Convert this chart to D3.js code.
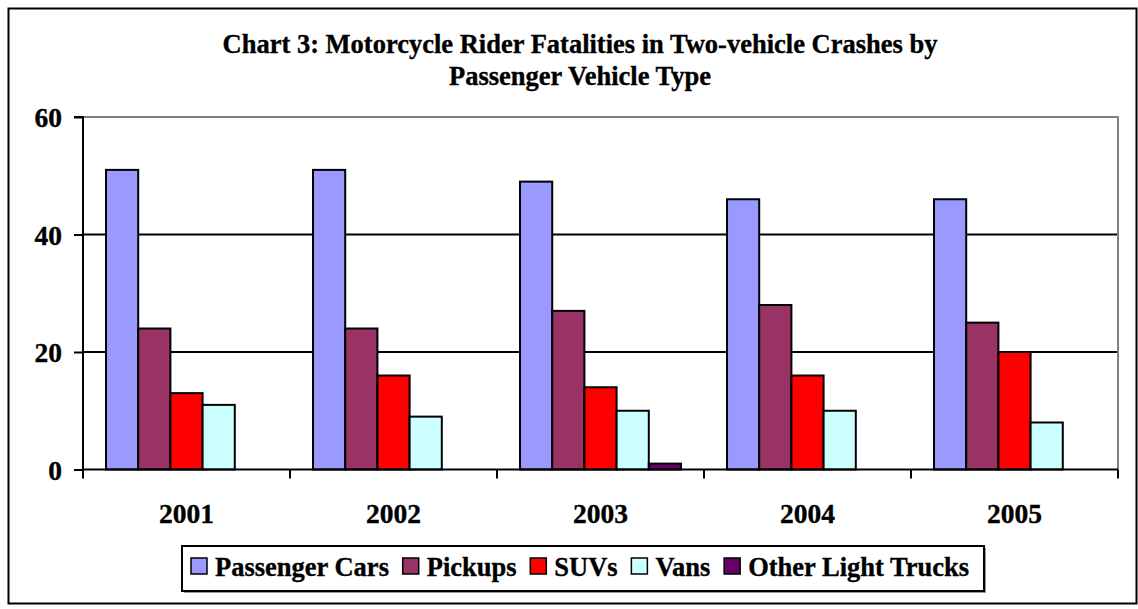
<!DOCTYPE html>
<html>
<head>
<meta charset="utf-8">
<script src="https://cdn.jsdelivr.net/npm/d3@7"></script>
<style>
  html, body { margin: 0; padding: 0; background: #fff; }
  svg { display: block; }
  text { font-family: "Liberation Serif", "Times New Roman", serif; font-weight: bold; fill: #000; stroke: #000; stroke-width: 0.35px; }
</style>
</head>
<body>
<svg id="chart" width="1138" height="609"></svg>
<script>
const years = ["2001", "2002", "2003", "2004", "2005"];
const seriesNames = ["Passenger Cars", "Pickups", "SUVs", "Vans", "Other Light Trucks"];
const seriesColors = ["#9999FF", "#993366", "#FF0000", "#CCFFFF", "#660066"];
const passengerCars = [51, 51, 49, 46, 46];
const pickups = [24, 24, 27, 28, 25];
const suvs = [13, 16, 14, 16, 20];
const vans = [11, 9, 10, 10, 8];
const otherLightTrucks = [0, 0, 1, 0, 0];
const yTicks = [0, 20, 40, 60];
const titleLines = ["Chart 3: Motorcycle Rider Fatalities in Two-vehicle Crashes by", "Passenger Vehicle Type"];

const seriesValues = [passengerCars, pickups, suvs, vans, otherLightTrucks];
const data = [];
years.forEach((yr, i) => {
  seriesNames.forEach((s, j) => data.push({year: yr, series: s, value: seriesValues[j][i], color: seriesColors[j]}));
});

const svg = d3.select("#chart");
const plot = {left: 83, right: 1118, top: 117, bottom: 469.5};

// outer border
svg.append("rect").attr("x", 8.5).attr("y", 8.5).attr("width", 1128).attr("height", 595)
  .attr("fill", "#fff").attr("stroke", "#000").attr("stroke-width", 2);

// title
svg.append("g").selectAll("text").data(titleLines).join("text")
  .attr("x", 580).attr("y", (d, i) => 52.5 + i * 32)
  .attr("text-anchor", "middle").attr("font-size", 26.5).text(d => d);

const x0 = d3.scaleBand().domain(years).range([plot.left, plot.right]).paddingInner(0).paddingOuter(0);
const x1 = d3.scaleBand().domain(seriesNames).range([0, x0.bandwidth()]).paddingInner(0).paddingOuter(0.715);
const y = d3.scaleLinear().domain([0, 60]).range([plot.bottom, plot.top]);

// gridlines
svg.append("g").selectAll("line").data(yTicks.filter(t => t > 0 && t < 60)).join("line")
  .attr("x1", plot.left).attr("x2", plot.right)
  .attr("y1", d => y(d)).attr("y2", d => y(d))
  .attr("stroke", "#000").attr("stroke-width", 2);

// plot area top/right border (gray)
svg.append("path")
  .attr("d", `M${plot.left},${y(60)}H${plot.right}V${plot.bottom}`)
  .attr("fill", "none").attr("stroke", "#808080").attr("stroke-width", 2);

// bars
svg.append("g").selectAll("rect").data(data).join("rect")
  .attr("x", d => x0(d.year) + x1(d.series))
  .attr("width", x1.bandwidth())
  .attr("y", d => y(d.value))
  .attr("height", d => y(0) - y(d.value))
  .attr("fill", d => d.color)
  .attr("stroke", "#000").attr("stroke-width", 2);

// y axis
const yAxis = d3.axisLeft(y).tickValues(yTicks).tickSize(9).tickPadding(12).tickFormat(d3.format("d"));
const gy = svg.append("g").attr("transform", `translate(${plot.left},0)`).call(yAxis);
gy.select(".domain").attr("stroke", "#000").attr("stroke-width", 2).attr("d", `M-9,${y(60)}H0V${plot.bottom}`);
gy.selectAll(".tick line").attr("stroke", "#000").attr("stroke-width", 2);
gy.selectAll(".tick text").attr("font-size", 27.5).attr("font-family", null).attr("fill", "#000").attr("dy", "0.35em");

// x axis
const xAxis = d3.axisBottom(x0).tickSize(0).tickPadding(0);
const gx = svg.append("g").attr("transform", `translate(0,${plot.bottom})`).call(xAxis);
gx.select(".domain").attr("stroke", "#000").attr("stroke-width", 2).attr("d", `M${plot.left},0H${plot.right}`);
gx.selectAll(".tick text").attr("font-size", 27.5).attr("font-family", null).attr("fill", "#000").attr("dy", null).attr("y", 53);
// boundary ticks
const bounds = years.map(yr => x0(yr)).concat([plot.right]);
gx.append("g").selectAll("line").data(bounds).join("line")
  .attr("x1", d => d).attr("x2", d => d).attr("y1", 0).attr("y2", 9)
  .attr("stroke", "#000").attr("stroke-width", 2);

// legend
const legend = svg.append("g");
legend.append("rect").attr("x", 184).attr("y", 548).attr("width", 802).attr("height", 45).attr("fill", "#999");
legend.append("rect").attr("x", 182).attr("y", 546).attr("width", 802).attr("height", 45)
  .attr("fill", "#fff").attr("stroke", "#000").attr("stroke-width", 2);
let lx = 191;
seriesNames.forEach((s, j) => {
  legend.append("rect").attr("x", lx).attr("y", 558).attr("width", 16).attr("height", 16)
    .attr("fill", seriesColors[j]).attr("stroke", "#000").attr("stroke-width", 1.5);
  const t = legend.append("text").attr("x", lx + 24).attr("y", 576).attr("font-size", 26.5).text(s);
  lx = lx + 24 + t.node().getComputedTextLength() + 13.75;
});
</script>
</body>
</html>
